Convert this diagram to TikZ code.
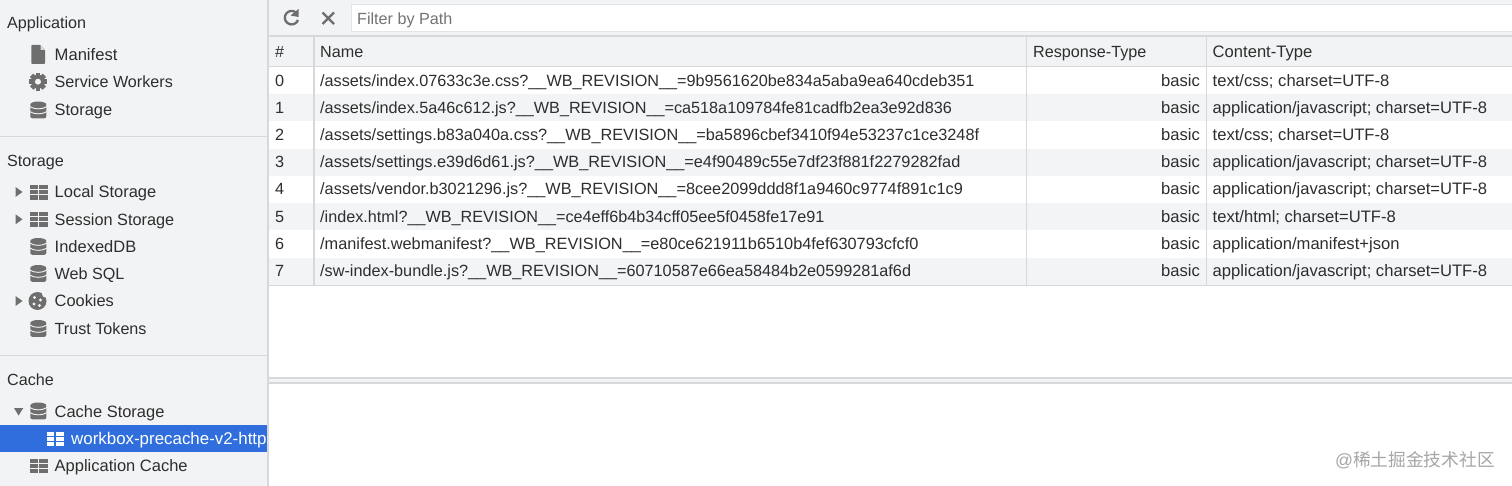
\documentclass[tikz,border=0pt]{standalone}
\usepackage{fontspec}
\setmainfont{Liberation Sans}
\newfontfamily\cjk{Noto Sans CJK SC}
\definecolor{sidebg}{HTML}{F2F3F5}
\definecolor{rowalt}{HTML}{F2F4F6}
\definecolor{lineg}{HTML}{D6D8DB}
\definecolor{icong}{HTML}{6E6E6E}
\definecolor{sel}{HTML}{2F6EDC}
\definecolor{txt}{HTML}{2E2E2E}
\definecolor{hdr}{HTML}{F1F3F4}
\newcommand\rowx[5]{\node[tn] at (275,#1) {#2};\node[tn,font=\fontsize{#5}{18}\selectfont] at (320,#1) {#3};\node[tr] at (1200,#1) {basic};\node[t] at (1212.5,#1) {#4};}
\tikzset{x=1pt,y=-1pt,
 t/.style={anchor=base west,inner sep=0pt,text=txt,font=\fontsize{16.6}{18}\selectfont},
 tn/.style={anchor=base west,inner sep=0pt,text=txt,font=\fontsize{16.22}{18}\selectfont},
 ts/.style={anchor=base west,inner sep=0pt,text=txt,font=\fontsize{16.15}{18}\selectfont},
 tr/.style={anchor=base east,inner sep=0pt,text=txt,font=\fontsize{16.6}{18}\selectfont},
 rule/.style={draw=lineg,line width=1.4pt},
 pics/db/.style={code={
  \fill[icong,rounded corners=2pt] (-8,-6) rectangle (8,8.3);
  \fill[icong] (0,-5.5) ellipse (8 and 3);
  \draw[sidebg,line width=0.9pt] (-8.5,-3.4) .. controls (-4,-0.4) and (4,-0.4) .. (8.5,-3.4);
  \draw[sidebg,line width=0.9pt] (-8.5,1.6) .. controls (-4,4.6) and (4,4.6) .. (8.5,1.6);
 }},
 pics/grid/.style={code={
  \foreach \yy in {-7.5,-2.3,3}{\fill[#1] (-8.5,\yy) rectangle (-0.6,\yy+4.3);\fill[#1] (0.6,\yy) rectangle (9,\yy+4.3);}
 }},
 pics/grid/.default=icong,
 pics/arr/.style={code={\fill[icong] (-3.5,-5)--(3.5,0)--(-3.5,5)--cycle;}},
}
\begin{document}
\begin{tikzpicture}
\useasboundingbox (0,0) rectangle (1512,486);
\fill[white] (0,0) rectangle (1512,486);
% sidebar
\fill[sidebg] (0,0) rectangle (267,486);
\draw[rule] (268,0) -- (268,486);
\draw[rule] (0,136.5) -- (267,136.5);
\draw[rule] (0,355.7) -- (267,355.7);
\node[ts] (h1) at (7,28.7) {Application};
\node[ts] (h2) at (7,166.4) {Storage};
\node[ts] (h3) at (7,385.3) {Cache};
\foreach \n/\y/\s/\z in {m1/60.6/Manifest/16.6,m2/87.7/Service Workers/16.15,m3/115.4/Storage/16.4,m4/198/Local Storage/16.47,m5/225.5/Session Storage/16.3,m6/252.5/IndexedDB/16.5,m7/279.7/Web SQL/16.15,m8/306.7/Cookies/16.4,m9/334/Trust Tokens/16.15,m10/417/Cache Storage/16.45,m11/471.3/Application Cache/16.5}
 \node[ts,font=\fontsize{\z}{18}\selectfont] (\n) at (54.5,\y) {\s};
% icons
\fill[icong,rounded corners=0.8pt] (31.3,45) -- (40.5,45) -- (45,50) -- (45,64) -- (31.3,64) -- cycle;
\fill[white!75!icong] (40.5,45) -- (45,50) -- (40.5,50) -- cycle;
\begin{scope}[shift={(38,81.7)}]
 \foreach \a in {0,45,...,315}{\fill[icong,rotate=\a] (-2.4,-9) rectangle (2.4,0);}
 \fill[icong] (0,0) circle (7);
 \fill[sidebg] (0,0) circle (3);
\end{scope}
\foreach \y in {110,246.5,273.5,328.5,411}{\pic at (38.3,\y) {db};}
\foreach \y in {192.5,219.5,466}{\pic at (38.6,\y) {grid};}
\foreach \y in {192,219.3,301}{\pic at (19,\y) {arr};}
\fill[icong] (14,408) -- (23.3,408) -- (18.6,415.5) -- cycle;
\begin{scope}[shift={(37.5,301)}]
 \fill[icong] (0,0) circle (9);
 \foreach \x/\yy in {-3/-3.5,3/-1,-3.5/3,2/4.5}{\fill[sidebg] (\x,\yy) circle (1.6);}
 \fill[sidebg] (8,-7) circle (3.5);
\end{scope}
% selection
\fill[sel] (0,425) rectangle (267,452);
\begin{scope}
\clip (0,425) rectangle (267,452);
\node[ts,text=white,font=\fontsize{16.9}{18}\selectfont] (m12) at (71,444.6) {workbox-precache-v2-https://example};
\end{scope}
\pic at (55,439) {grid=white};
% toolbar
\fill[sidebg] (269,0) rectangle (1512,35);
\draw[rule] (269,36) -- (1512,36);
\draw[draw=lineg!70,fill=white,line width=0.8pt] (351,4.7) rectangle (1513,31.7);
\node[ts,text=black!55] (filter) at (357,25) {Filter by Path};
\draw[icong,line width=2.3pt] (296,12.5) arc (-50:-340:6.8);
\fill[icong] (298.5,9) -- (298.5,17) -- (290.5,15.5) -- cycle;
\draw[icong,line width=2.4pt] (322.5,12.5) -- (334,24) (334,12.5) -- (322.5,24);
% table
\fill[hdr] (269,37) rectangle (1512,66);
\foreach \y in {94.5,149,203.5,258}{\fill[rowalt] (269,\y) rectangle (1512,\y+27);}
\draw[rule] (269,66.5) -- (1512,66.5);
\draw[rule] (269,285.5) -- (1512,285.5);
\draw[rule] (314,37) -- (314,285);
\draw[rule] (1026.5,37) -- (1026.5,285);
\draw[rule] (1206.5,37) -- (1206.5,285);
\node[ts] at (275,57.6) {\#};
\node[ts] at (320,57.6) {Name};
\node[ts] at (1033,57.6) {Response-Type};
\node[t] at (1212.5,57.6) {Content-Type};
\rowx{86.1}{0}{/assets/index.07633c3e.css?\_\_WB\_REVISION\_\_=9b9561620be834a5aba9ea640cdeb351}{text/css; charset=UTF-8}{16.22}
\rowx{113.2}{1}{/assets/index.5a46c612.js?\_\_WB\_REVISION\_\_=ca518a109784fe81cadfb2ea3e92d836}{application/javascript; charset=UTF-8}{16.22}
\rowx{140.6}{2}{/assets/settings.b83a040a.css?\_\_WB\_REVISION\_\_=ba5896cbef3410f94e53237c1ce3248f}{text/css; charset=UTF-8}{16.27}
\rowx{167.7}{3}{/assets/settings.e39d6d61.js?\_\_WB\_REVISION\_\_=e4f90489c55e7df23f881f2279282fad}{application/javascript; charset=UTF-8}{16.3}
\rowx{195}{4}{/assets/vendor.b3021296.js?\_\_WB\_REVISION\_\_=8cee2099ddd8f1a9460c9774f891c1c9}{application/javascript; charset=UTF-8}{16.27}
\rowx{222.1}{5}{/index.html?\_\_WB\_REVISION\_\_=ce4eff6b4b34cff05ee5f0458fe17e91}{text/html; charset=UTF-8}{16.2}
\rowx{249.6}{6}{/manifest.webmanifest?\_\_WB\_REVISION\_\_=e80ce621911b6510b4fef630793cfcf0}{application/manifest+json}{16.3}
\rowx{276.7}{7}{/sw-index-bundle.js?\_\_WB\_REVISION\_\_=60710587e66ea58484b2e0599281af6d}{application/javascript; charset=UTF-8}{16.24}
% divider
\draw[rule] (269,378) -- (1512,378);
\draw[rule] (269,383) -- (1512,383);
\fill[sidebg] (269,378.6) rectangle (1512,382.4);
% watermark
\node[anchor=base west,inner sep=0pt,text=black!35,font=\fontsize{17.7}{18}\selectfont] (wm) at (1335,466.3) {@\cjk 稀土掘金技术社区};
\end{tikzpicture}
\end{document}
